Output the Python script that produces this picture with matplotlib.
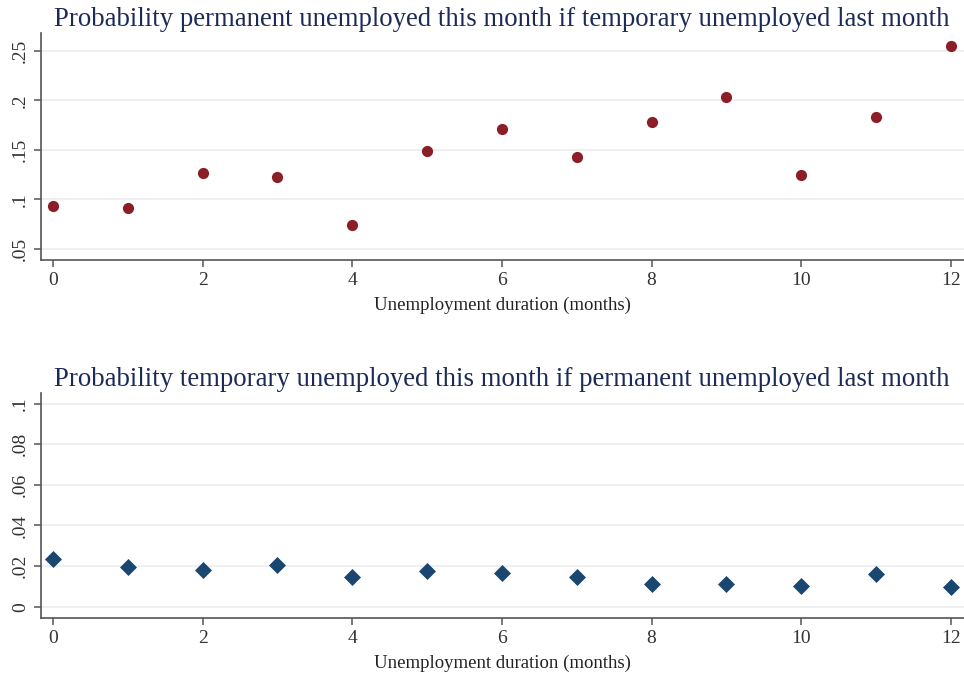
import matplotlib.pyplot as plt

# unemployment duration (months)
months = list(range(13))

# probability permanent unemployed this month if temporary unemployed last month
p_temp_to_perm = [0.0936, 0.0916, 0.127, 0.1226, 0.0737, 0.149, 0.1715,
                  0.143, 0.178, 0.2034, 0.1247, 0.183, 0.255]

# probability temporary unemployed this month if permanent unemployed last month
p_perm_to_temp = [0.0234, 0.0197, 0.018, 0.0205, 0.0144, 0.0177, 0.0164,
                  0.0148, 0.011, 0.0113, 0.0103, 0.0159, 0.0095]

top_yticks = [0.05, 0.1, 0.15, 0.2, 0.25]
top_ylabels = [".05", ".1", ".15", ".2", ".25"]
bot_yticks = [0, 0.02, 0.04, 0.06, 0.08, 0.1]
bot_ylabels = ["0", ".02", ".04", ".06", ".08", ".1"]
xticks = [0, 2, 4, 6, 8, 10, 12]

plt.rcParams["font.family"] = ["Liberation Serif", "DejaVu Serif"]

fig = plt.figure(figsize=(9.64, 6.75), dpi=100)
ax1 = fig.add_axes([0.0425, 0.6148, 0.957, 0.336])
ax2 = fig.add_axes([0.0425, 0.0844, 0.957, 0.333])

title_color = "#1c2a56"


def style(ax, yticks, ylabels, ylim, title):
    ax.set_xlim(-0.16, 12.17)
    ax.set_ylim(*ylim)
    ax.set_xticks(xticks)
    ax.set_xticklabels([str(t) for t in xticks], fontsize=14)
    ax.set_yticks(yticks)
    ax.set_yticklabels(ylabels, fontsize=14, rotation=90, va="center")
    ax.grid(axis="y", color="#ececec", linewidth=1.2)
    ax.set_axisbelow(True)
    ax.spines["top"].set_visible(False)
    ax.spines["right"].set_visible(False)
    for s in ("left", "bottom"):
        ax.spines[s].set_color("#555555")
        ax.spines[s].set_linewidth(1.2)
    ax.tick_params(colors="#555555", labelcolor="#333333", length=5, width=1.1)
    ax.set_xlabel("Unemployment duration (months)", fontsize=13.5, color="#222222", labelpad=6)
    ax.set_title(title, fontsize=19.3, color=title_color, pad=5)


ax1.scatter(months, p_temp_to_perm, s=65, color="#8b1e26", zorder=3, linewidths=0)
style(ax1, top_yticks, top_ylabels, (0.0386, 0.268),
      "Probability permanent unemployed this month if temporary unemployed last month")

ax2.scatter(months, p_perm_to_temp, s=75, marker="D", color="#1a4770", zorder=3, linewidths=0)
style(ax2, bot_yticks, bot_ylabels, (-0.0056, 0.1051),
      "Probability temporary unemployed this month if permanent unemployed last month")

plt.savefig("out.png", dpi=100)
